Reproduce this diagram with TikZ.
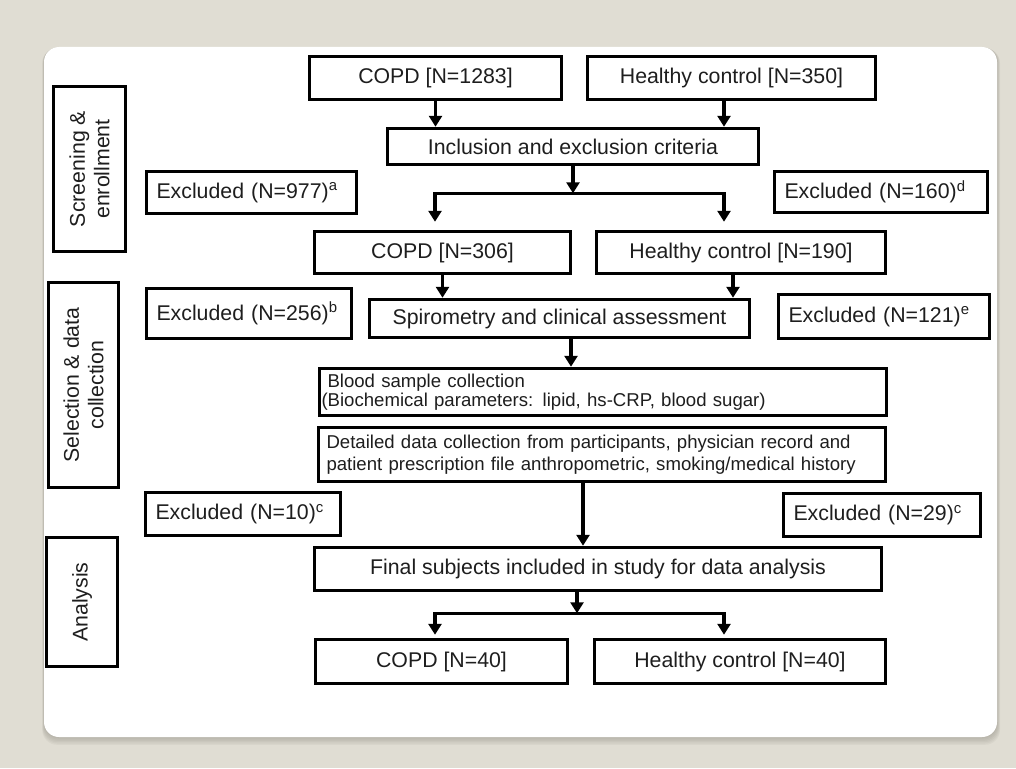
\documentclass[tikz,border=0pt]{standalone}
\usepackage{fontspec}
\setmainfont{Liberation Sans}
\usetikzlibrary{arrows.meta, positioning, calc}
\definecolor{pagebg}{RGB}{224,221,211}
\definecolor{shadowgray}{RGB}{150,147,137}
\definecolor{inkgray}{RGB}{30,30,30}
\newcommand{\mainfs}{\fontsize{21.3}{24.5}\selectfont}
\newcommand{\smallfs}{\fontsize{18.6}{21.5}\selectfont}

\begin{document}
\begin{tikzpicture}[
    x=1pt, y=-1pt,
    >={Triangle[width=13pt, length=11pt]},
    flowbox/.style={draw, line width=3.5pt, inner sep=0pt, font=\mainfs, align=center, text=inkgray},
    exbox/.style={flowbox, align=left, inner xsep=10pt, text width=#1},
    stagebox/.style={flowbox, rotate=90},
    arr/.style={->, line width=3.2pt},
]
    \useasboundingbox (0,0) rectangle (1016,768);

    % Page and panel with soft shadow
    \fill[pagebg] (0,0) rectangle (1016,768);
    \foreach \s in {1,...,6}
        \fill[shadowgray, opacity=0.1, rounded corners=15pt]
            (44-0.3*\s,47+0.2*\s) rectangle (997+0.5*\s,737+1.3*\s);
    \fill[white, rounded corners=15pt] (44,47) rectangle (997,737);

    % Stage labels
    \node[stagebox, minimum width=165, minimum height=72] (stageA) at (89.5,169) {Screening \&\\enrollment};
    \node[stagebox, minimum width=205, minimum height=70] (stageB) at (83.5,385) {Selection \& data\\collection};
    \node[stagebox, minimum width=129, minimum height=71] (stageC) at (82,602) {Analysis};

    % Screening & enrollment
    \node[flowbox, minimum width=252, minimum height=43] (copdA) at (435.5,78) {COPD [N=1283]};
    \node[flowbox, minimum width=288, minimum height=43] (hcA) at (731.5,78) {Healthy control [N=350]};
    \node[flowbox, minimum width=371, minimum height=36] (incl) at (573,146.5) {Inclusion and exclusion criteria};
    \node[exbox=190pt, minimum height=42] (exA) at (251.5,192.5) {Excluded (N=977)\textsuperscript{a}};
    \node[exbox=193pt, minimum height=41] (exD) at (881,192) {Excluded (N=160)\textsuperscript{d}};
    \node[flowbox, minimum width=256, minimum height=42] (copdB) at (442.5,252.5) {COPD [N=306]};
    \node[flowbox, minimum width=289, minimum height=42] (hcB) at (741,252.5) {Healthy control [N=190]};

    % Selection & data collection
    \node[exbox=185pt, minimum height=50] (exB) at (249,313.5) {Excluded (N=256)\textsuperscript{b}};
    \node[flowbox, minimum width=380, minimum height=38] (spiro) at (559.5,318.5) {Spirometry and clinical assessment};
    \node[exbox=191pt, minimum height=44] (exE) at (884,316.5) {Excluded (N=121)\textsuperscript{e}};
    \node[flowbox, font=\smallfs, align=left, text width=563pt, inner xsep=2pt, minimum height=47] (blood) at (603,392)
        {\hspace*{6pt}Blood sample collection\\[-2pt](Biochemical parameters: lipid, hs-CRP, blood sugar)};
    \node[flowbox, font=\smallfs, align=left, text width=551pt, inner xsep=8pt, minimum height=54] (detail) at (602,454.5)
        {Detailed data collection from participants, physician record and\\patient prescription file anthropometric, smoking/medical history};
    \node[exbox=175pt, minimum height=43] (exC) at (243,514) {Excluded (N=10)\textsuperscript{c}};
    \node[exbox=177pt, minimum height=43] (exF) at (882,515) {Excluded (N=29)\textsuperscript{c}};

    % Analysis
    \node[flowbox, minimum width=567, minimum height=43] (final) at (598,569) {Final subjects included in study for data analysis};
    \node[flowbox, minimum width=252, minimum height=44] (copdC) at (441.5,661.5) {COPD [N=40]};
    \node[flowbox, minimum width=291, minimum height=44] (hcC) at (740,661.5) {Healthy control [N=40]};

    % Connectors
    \draw[arr] (copdA.south) -- (copdA.south |- incl.north);
    \draw[arr] ([xshift=-7.5pt]hcA.south) -- ([xshift=-7.5pt]hcA.south |- incl.north);
    \coordinate (forkA) at ([yshift=-27pt]incl.south);
    \draw[arr] (incl.south) -- (forkA);
    \draw[arr, shorten >=8pt] (forkA) -| ([xshift=-7.5pt]copdB.north);
    \draw[arr, shorten >=8pt] (forkA) -| ([xshift=-17pt]hcB.north);
    \draw[arr] (copdB.south) -- (copdB.south |- spiro.north);
    \draw[arr] ([xshift=-8pt]hcB.south) -- ([xshift=-8pt]hcB.south |- spiro.north);
    \draw[arr] ([xshift=11.5pt]spiro.south) -- ([xshift=11.5pt]spiro.south |- blood.north);
    \draw[arr] ([xshift=-19pt]detail.south) -- ([xshift=-19pt]detail.south |- final.north);
    \coordinate (forkB) at ([xshift=-21pt, yshift=-21pt]final.south);
    \draw[arr] ([xshift=-21pt]final.south) -- (forkB);
    \draw[arr, shorten >=3pt] (forkB) -| ([xshift=-6.5pt]copdC.north);
    \draw[arr, shorten >=3pt] (forkB) -| ([xshift=-16pt]hcC.north);
\end{tikzpicture}
\end{document}
